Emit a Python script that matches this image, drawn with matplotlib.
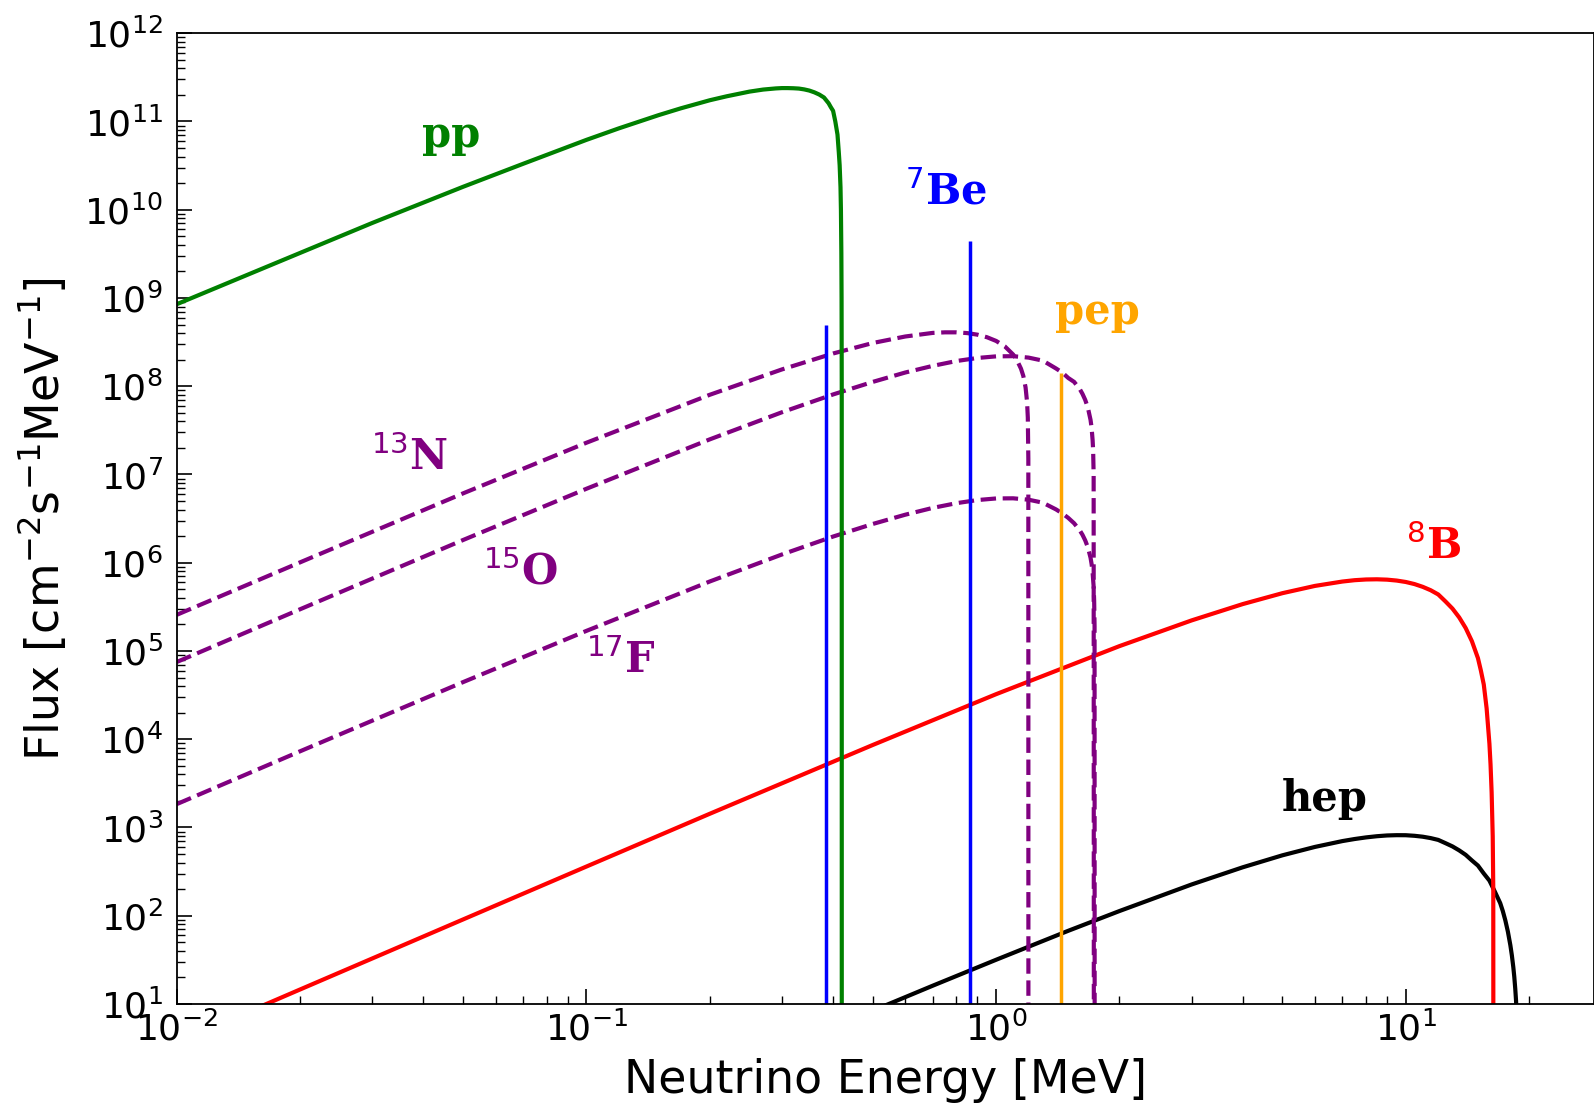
import matplotlib
matplotlib.use("Agg")
import matplotlib.pyplot as plt
from matplotlib.ticker import LogLocator, NullFormatter

# ---------------- data ----------------
pp_E = [0.01, 0.015, 0.02, 0.03, 0.05, 0.07, 0.1, 0.12, 0.15, 0.17, 0.2, 0.22,
        0.25, 0.27, 0.29, 0.3, 0.31, 0.32, 0.33, 0.34, 0.35, 0.36, 0.37, 0.38,
        0.39, 0.395, 0.40, 0.405, 0.41, 0.413, 0.415, 0.417, 0.418, 0.419,
        0.4195, 0.4199, 0.42]
pp_F = [8.5e8, 1.86e9, 3.24e9, 7.08e9, 1.82e10, 3.31e10, 6.19e10, 8.36e10,
        1.18e11, 1.41e11, 1.74e11, 1.93e11, 2.18e11, 2.30e11, 2.37e11, 2.39e11,
        2.39e11, 2.38e11, 2.36e11, 2.31e11, 2.24e11, 2.14e11, 2.02e11, 1.87e11,
        1.61e11, 1.45e11, 1.32e11, 1.0e11, 7.1e10, 4.5e10, 3.2e10, 1.8e10,
        1.0e10, 3.2e9, 1.0e9, 1.0e8, 1.0]

n13_E = [0.01, 0.02, 0.05, 0.1, 0.2, 0.3, 0.4, 0.5, 0.6, 0.7, 0.75, 0.8, 0.85,
         0.9, 0.95, 1.0, 1.05, 1.1, 1.125, 1.15, 1.165, 1.18, 1.19, 1.195,
         1.1985, 1.199]
n13_F = [2.57e5, 1.01e6, 6.11e6, 2.29e7, 8.0e7, 1.55e8, 2.35e8, 3.09e8, 3.66e8,
         4.02e8, 4.08e8, 4.08e8, 4.0e8, 3.84e8, 3.59e8, 3.26e8, 2.83e8, 2.29e8,
         1.96e8, 1.58e8, 1.31e8, 9.7e7, 6.6e7, 4.4e7, 1.5e7, 1.0]

o15_E = [0.01, 0.02, 0.05, 0.1, 0.2, 0.3, 0.4, 0.5, 0.6, 0.7, 0.8, 0.9, 1.0,
         1.1, 1.2, 1.3, 1.4, 1.45, 1.5, 1.55, 1.6, 1.625, 1.65, 1.675, 1.7,
         1.71, 1.72, 1.725, 1.73, 1.732]
o15_F = [7.5e4, 2.97e5, 1.81e6, 6.89e6, 2.50e7, 5.07e7, 8.07e7, 1.12e8, 1.43e8,
         1.70e8, 1.93e8, 2.09e8, 2.18e8, 2.19e8, 2.11e8, 1.95e8, 1.59e8,
         1.43e8, 1.24e8, 1.12e8, 9.3e7, 8.18e7, 7.0e7, 5.7e7, 4.16e7, 3.4e7,
         2.45e7, 1.89e7, 1.0e7, 1.0]

f17_E = [0.01, 0.02, 0.05, 0.1, 0.2, 0.3, 0.4, 0.5, 0.6, 0.7, 0.8, 0.9, 1.0,
         1.1, 1.2, 1.3, 1.4, 1.45, 1.5, 1.55, 1.6, 1.625, 1.65, 1.675, 1.7,
         1.71, 1.72, 1.73, 1.735, 1.739, 1.74]
f17_F = [1.84e3, 7.3e3, 4.44e4, 1.69e5, 6.13e5, 1.24e6, 1.98e6, 2.75e6, 3.50e6,
         4.18e6, 4.73e6, 5.13e6, 5.35e6, 5.37e6, 5.18e6, 4.79e6, 4.02e6,
         3.63e6, 3.22e6, 2.80e6, 2.33e6, 2.07e6, 1.79e6, 1.49e6, 1.14e6,
         9.7e5, 7.7e5, 5.36e5, 3.7e5, 1.9e5, 1.0]

b8_E = [0.01, 0.02, 0.05, 0.1, 0.2, 0.5, 1, 2, 3, 4, 5, 6, 7, 7.5, 8, 8.5, 9,
        9.5, 10, 10.5, 11, 11.5, 12, 12.5, 13, 13.5, 14, 14.5, 15, 15.25, 15.5,
        15.75, 16.0, 16.1, 16.2, 16.3, 16.35, 16.36]
b8_F = [3.65, 14.6, 90.8, 361, 1.43e3, 8.61e3, 3.24e4, 1.135e5, 2.22e5, 3.40e5,
        4.52e5, 5.46e5, 6.12e5, 6.34e5, 6.46e5, 6.49e5, 6.43e5, 6.28e5, 6.05e5,
        5.73e5, 5.33e5, 4.88e5, 4.37e5, 3.64e5, 3.02e5, 2.40e5, 1.82e5,
        1.29e5, 8.3e4, 6.0e4, 4.17e4, 2.24e4, 8.9e3, 5.2e3, 2.5e3, 794, 200,
        1.0]

hep_E = [0.5, 0.7, 1, 1.5, 2, 3, 4, 5, 6, 7, 7.5, 8, 8.5, 9, 9.5, 10, 10.5, 11,
         11.5, 12, 12.5, 13, 13.5, 14, 14.5, 15, 15.5, 16, 16.5, 17, 17.25,
         17.5, 17.75, 18, 18.15, 18.3, 18.4, 18.5, 18.58, 18.65, 18.72, 18.77]
hep_F = [8.4, 16.1, 31.7, 67.5, 113, 226, 354, 484, 602, 701, 740, 772, 796,
         812, 818, 817, 805, 786, 758, 723, 664, 610, 550, 490, 423, 370, 301,
         250, 187, 139, 113, 88.3, 66, 46.2, 35.6, 26.1, 20.3, 14.9, 11.0, 7.7,
         4.3, 1.0]

be7_E = [0.384, 0.862]
be7_F = [4.9e8, 4.47e9]
pep_E = [1.442]
pep_F = [1.42e8]

labels = ["pp", r"$^{7}$Be", "pep", r"$^{13}$N", r"$^{15}$O", r"$^{17}$F",
          r"$^{8}$B", "hep"]
label_E = [0.0468, 0.752, 1.763, 0.037, 0.069, 0.121, 11.68, 6.34]
label_F = [7.0e10, 1.55e10, 6.9e8, 1.56e7, 7.8e5, 7.8e4, 1.51e6, 2.1e3]
label_colors = ["green", "blue", "orange", "purple", "purple", "purple",
                "red", "black"]

xlim = (1e-2, 28.8)
ylim = (1e1, 1e12)

# ---------------- figure ----------------
fig = plt.figure(figsize=(15.94, 11.04), dpi=100)
ax = fig.add_axes([0.1109, 0.0906, 0.8891, 0.8793])
ax.set_xscale("log")
ax.set_yscale("log")

ax.plot(hep_E, hep_F, color="black", lw=3)
ax.plot(b8_E, b8_F, color="red", lw=3)
ax.plot(n13_E, n13_F, color="purple", lw=3, ls="--")
ax.plot(o15_E, o15_F, color="purple", lw=3, ls="--")
ax.plot(f17_E, f17_F, color="purple", lw=3, ls="--")
ax.plot(pp_E, pp_F, color="green", lw=3)
ax.vlines(be7_E, ylim[0], be7_F, color="blue", lw=2.5)
ax.vlines(pep_E, ylim[0], pep_F, color="orange", lw=2.5)

for t, x, y, c in zip(labels, label_E, label_F, label_colors):
    ax.text(x, y, t, color=c, fontsize=30, fontweight="bold",
            family="DejaVu Serif", ha="center", va="center")

ax.set_xlim(*xlim)
ax.set_ylim(*ylim)

ax.yaxis.set_major_locator(LogLocator(base=10, numticks=20))
ax.yaxis.set_minor_locator(LogLocator(base=10, subs=range(2, 10), numticks=20))
ax.yaxis.set_minor_formatter(NullFormatter())
ax.xaxis.set_minor_formatter(NullFormatter())

ax.tick_params(which="major", direction="in", length=11, width=1.2,
               labelsize=26)
ax.tick_params(which="minor", direction="in", length=5.5, width=1.0)
ax.tick_params(axis="y", which="major", pad=10)
ax.tick_params(axis="x", which="major", pad=5)
for s in ax.spines.values():
    s.set_linewidth(1.3)

ax.set_xlabel("Neutrino Energy [MeV]", fontsize=33, labelpad=8)
ax.set_ylabel(r"Flux [cm$^{-2}$s$^{-1}$MeV$^{-1}$]", fontsize=33,
              labelpad=11)

fig.savefig("out.png", dpi=100)
